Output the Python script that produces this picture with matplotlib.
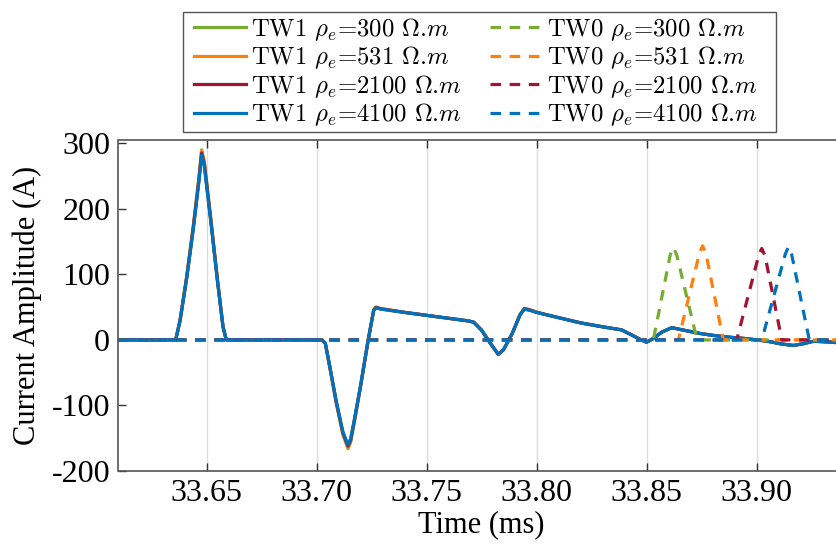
import matplotlib
matplotlib.use("Agg")
import matplotlib.pyplot as plt
from matplotlib.patches import Rectangle
from matplotlib.ticker import FixedLocator, FixedFormatter

plt.rcParams['mathtext.fontset'] = 'cm'
plt.rcParams['axes.unicode_minus'] = False

# ---------------- data ----------------
labels_rho = ["300", "531", "2100", "4100"]
colors = ["#77AC30", "#FF7F0E", "#A2142F", "#0072BD"]

# TW1 (shared time base, ms)
t_tw1 = [33.610, 33.636, 33.638, 33.641, 33.644, 33.6465, 33.6478, 33.649, 33.652,
         33.655, 33.6575, 33.659, 33.7025, 33.704, 33.706, 33.709, 33.712, 33.7143,
         33.7155, 33.717, 33.720, 33.7235, 33.726, 33.727, 33.729, 33.740, 33.750,
         33.760, 33.769, 33.7715, 33.775, 33.779, 33.7826, 33.785, 33.789, 33.7925,
         33.7945, 33.797, 33.800, 33.805, 33.810, 33.815, 33.820, 33.830, 33.8387,
         33.843, 33.847, 33.850, 33.853, 33.857, 33.8615, 33.866, 33.874, 33.880,
         33.888, 33.895, 33.900, 33.905, 33.911, 33.9167, 33.921, 33.926, 33.932, 33.940]

tw1_300 = [0, 0, 30, 97, 174, 246, 290, 272, 184, 92, 20, 0] + [0, -5, -41, -97, -144, -166,
           -156, -129, -72, 0, 46, 50, 48, 42, 37.5, 33, 29, 27, 15, -5, -22, -15, 10, 39,
           48, 46, 42.5, 38, 34, 30, 26, 20, 15.3, 8, 1, -3.5, 2, 12, 18.7, 15.5, 10, 7,
           4, 2, 0, -2, -6, -8.5, -6, -2, -3, -5]
tw1_531 = [0, 0, 30, 96, 173, 244, 288, 270, 183, 91, 20, 0] + [0, -5, -41, -96, -143, -164,
           -155, -128, -71, 0, 46, 50, 48, 42, 37.5, 33, 29, 27, 15, -5, -22, -15, 10, 39,
           48, 46, 42.5, 38, 34, 30, 26, 20, 15.3, 8, 1, -3.5, 2, 12, 18.7, 15.5, 10, 7,
           4, 2, 0, -2, -6, -8.5, -6, -2, -3, -5]
tw1_2100 = [0, 0, 30, 95, 171, 242, 285, 268, 181, 90, 20, 0] + [0, -5, -40, -95, -142, -162,
            -153, -127, -71, 0, 45, 49.5, 47.5, 42, 37.5, 33, 29, 27, 15, -5, -22, -15, 10, 38,
            47.5, 45.5, 42, 38, 34, 30, 26, 20, 15.3, 8, 1, -3.5, 2, 12, 18.7, 15.5, 10, 7,
            4, 2, 0, -2, -6, -8.5, -6, -2, -3, -5]
tw1_4100 = [0, 0, 30, 94, 169, 240, 282, 265, 179, 89, 20, 0] + [0, -5, -40, -94, -140, -160,
            -151, -125, -70, 0, 45, 49, 47, 42, 37.5, 33, 29, 27, 15, -5, -22, -15, 10, 38,
            47, 45, 42, 38, 34, 30, 26, 20, 15.3, 8, 1, -3.5, 2, 12, 18.7, 15.5, 10, 7,
            4, 2, 0, -2, -6, -8.5, -6, -2, -3, -5]

# TW0 (zero-sequence) pulses
t_tw0_300 = [33.610, 33.8531, 33.8608, 33.8622, 33.8637, 33.8730, 33.940]
v_tw0_300 = [0, 0, 130, 141, 130, 0, 0]
t_tw0_531 = [33.610, 33.8645, 33.8741, 33.8755, 33.8770, 33.8849, 33.940]
v_tw0_531 = [0, 0, 133, 143.5, 132, 0, 0]
t_tw0_2100 = [33.610, 33.8910, 33.9010, 33.9024, 33.9039, 33.9115, 33.940]
v_tw0_2100 = [0, 0, 129, 139.5, 128, 0, 0]
t_tw0_4100 = [33.610, 33.9024, 33.9131, 33.9145, 33.9160, 33.9240, 33.940]
v_tw0_4100 = [0, 0, 131, 142, 130, 0, 0]

tw1_series = [tw1_300, tw1_531, tw1_2100, tw1_4100]
tw0_series = [(t_tw0_300, v_tw0_300), (t_tw0_531, v_tw0_531),
              (t_tw0_2100, v_tw0_2100), (t_tw0_4100, v_tw0_4100)]

xticks = [33.65, 33.70, 33.75, 33.80, 33.85, 33.90]
xticklabels = ["33.65", "33.70", "33.75", "33.80", "33.85", "33.90"]
yticks = [-200, -100, 0, 100, 200, 300]
yticklabels = ["-200", "-100", "0", "100", "200", "300"]

# ---------------- figure ----------------
W, H = 837, 545
fig = plt.figure(figsize=(W / 100, H / 100), dpi=100)
left_px, right_px, top_px, bot_px = 118.5, 844.5, 140, 471
ax = fig.add_axes([left_px / W, 1 - bot_px / H, (right_px - left_px) / W, (bot_px - top_px) / H])

lw = 2.3
handles = []
for vals, c, r in zip(tw1_series, colors, labels_rho):
    h, = ax.plot(t_tw1, vals, color=c, lw=lw, solid_joinstyle='round',
                 label=r"TW1 $\rho_e$=" + r + r" $\Omega$.$m$")
    handles.append(h)
for (tt, vv), c, r in zip(tw0_series, colors, labels_rho):
    h, = ax.plot(tt, vv, color=c, lw=lw, linestyle=(0, (3.3, 2.7)),
                 label=r"TW0 $\rho_e$=" + r + r" $\Omega$.$m$")
    handles.append(h)

ax.set_xlim(33.61, 33.94)
ax.set_ylim(-200, 305)
ax.xaxis.set_major_locator(FixedLocator(xticks))
ax.xaxis.set_major_formatter(FixedFormatter(xticklabels))
ax.yaxis.set_major_locator(FixedLocator(yticks))
ax.yaxis.set_major_formatter(FixedFormatter(yticklabels))

ax.grid(True, axis='x', color='#dcdcdc', lw=1.0)
ax.set_axisbelow(True)
for s in ax.spines.values():
    s.set_color('#555555')
    s.set_linewidth(1.2)
ax.tick_params(direction='in', length=6, width=1.0, color='#333333',
               top=True, right=True, labelsize=23, pad=6)
for lab in ax.get_xticklabels() + ax.get_yticklabels():
    lab.set_family('Liberation Serif')

ax.set_xlabel("Time (ms)", family='Liberation Serif', fontsize=22, labelpad=1)
ax.set_ylabel("Current Amplitude (A)", family='Liberation Serif', fontsize=22, labelpad=7)

# legend frame (MATLAB style, extra right padding)
frame = Rectangle((183 / W, 1 - 131.7 / H), (776 - 183) / W, (131.7 - 12.3) / H,
                  transform=fig.transFigure, facecolor='white', edgecolor='#555555',
                  lw=1.0, zorder=1)
fig.patches.append(frame)

leg = fig.legend(handles=handles, ncol=2, loc='upper left',
                 bbox_to_anchor=(194 / W, 1 - 16 / H),
                 prop={'family': 'cmr10', 'size': 17.8},
                 handlelength=2.1, handletextpad=0.2, columnspacing=1.15,
                 labelspacing=0.07, borderpad=0.0, borderaxespad=0,
                 frameon=False)

fig.savefig("out.png", dpi=100)
